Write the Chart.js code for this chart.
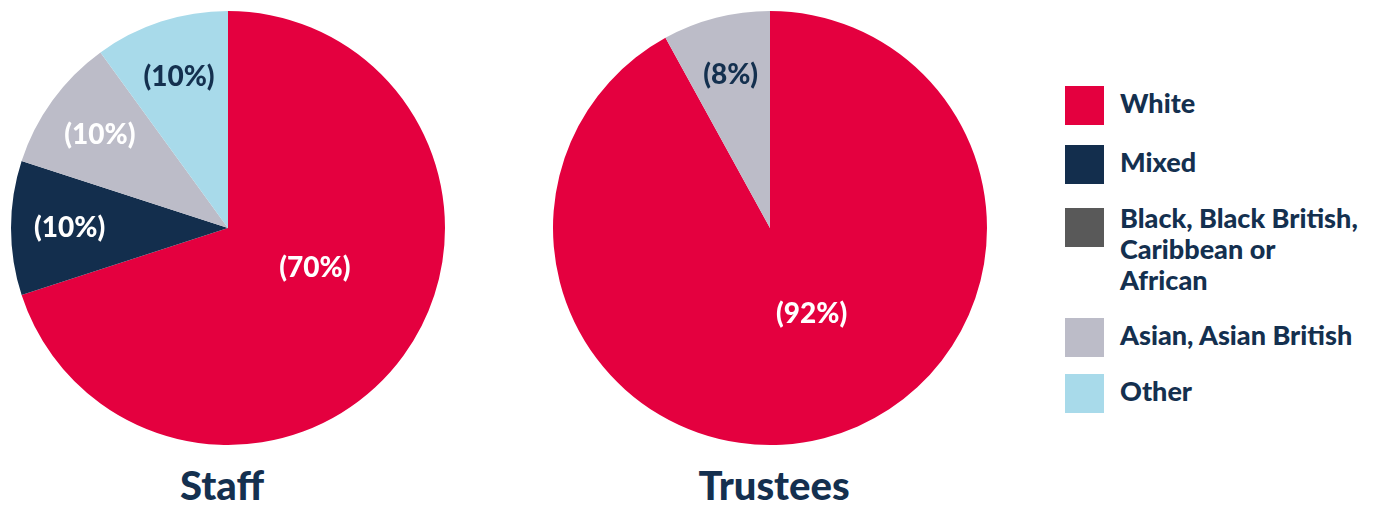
<!DOCTYPE html>
<html>
<head>
<meta charset="utf-8">
<script src="https://cdn.jsdelivr.net/npm/chart.js@4.4.1/dist/chart.umd.min.js"></script>
<style>
  body { margin: 0; background: #fff; width: 1378px; height: 506px; overflow: hidden; font-family: Lato, sans-serif; }
  .pie { position: absolute; top: 0; width: 456px; height: 456px; }
  .title { position: absolute; top: 461px; width: 456px; text-align: center; font-size: 40px; font-weight: 900; color: #14304f; }
  #legend { position: absolute; left: 1065px; top: 86px; }
  .item { position: absolute; left: 0; display: flex; }
  .swatch { width: 39px; height: 39px; flex: none; }
  .text { margin-left: 16px; font-size: 27px; font-weight: 900; color: #14304f; line-height: 31px; white-space: nowrap; }
</style>
</head>
<body>
<div class="pie" style="left:0"><canvas id="staffChart"></canvas></div>
<div class="pie" style="left:542px"><canvas id="trusteesChart"></canvas></div>
<div class="title" style="left:-6px">Staff</div>
<div class="title" style="left:546px">Trustees</div>
<div id="legend"></div>

<script>
// Categories and colours
const categories = ['White', 'Mixed', 'Black, Black British, Caribbean or African', 'Asian, Asian British', 'Other'];
const legendLines = [['White'], ['Mixed'], ['Black, Black British,', 'Caribbean or', 'African'], ['Asian, Asian British'], ['Other']];
const colours = ['#e4003f', '#132e4d', '#595959', '#bcbcc8', '#a8daea'];

// Percentages
const staffValues = [70, 10, 0, 10, 10];
const trusteeValues = [92, 0, 0, 8, 0];

// Label text colour per slice
const staffLabelColours = ['#ffffff', '#ffffff', '#ffffff', '#ffffff', '#14304f'];
const trusteeLabelColours = ['#ffffff', '#ffffff', '#ffffff', '#14304f', '#14304f'];

// Legend rows (top offsets)
const legendTops = [0, 59, 122, 232, 288];

// Draws "(nn%)" on each slice
const sliceLabels = {
    id: 'sliceLabels',
    afterDatasetsDraw(chart, args, opts) {
        const ctx = chart.ctx;
        const meta = chart.getDatasetMeta(0);
        const data = chart.data.datasets[0].data;
        ctx.save();
        ctx.font = '900 28px Lato';
        ctx.textAlign = 'center';
        ctx.textBaseline = 'middle';
        meta.data.forEach((arc, i) => {
            if (!data[i]) return;
            const big = data[i] > 50;
            const mid = (arc.startAngle + arc.endAngle) / 2 - (big ? 0.2 : 0);
            const r = arc.outerRadius * (big ? 0.44 : 0.73);
            const x = arc.x + Math.cos(mid) * r;
            const y = arc.y + Math.sin(mid) * r;
            ctx.fillStyle = opts.colours[i];
            ctx.fillText('(' + data[i] + '%)', x, y);
        });
        ctx.restore();
    }
};

function makePie (id, values, labelColours) {
    return new Chart(document.getElementById(id), {
        type: 'pie',
        data: {
            labels: categories,
            datasets: [{
                data: values,
                backgroundColor: colours,
                borderWidth: 0
            }]
        },
        options: {
            responsive: true,
            maintainAspectRatio: false,
            animation: false,
            layout: { padding: 11 },
            plugins: {
                legend: { display: false },
                tooltip: { enabled: false },
                sliceLabels: { colours: labelColours }
            }
        },
        plugins: [sliceLabels]
    });
}

makePie('staffChart', staffValues, staffLabelColours);
makePie('trusteesChart', trusteeValues, trusteeLabelColours);

// Legend
const legend = document.getElementById('legend');
categories.forEach((c, i) => {
    const item = document.createElement('div');
    item.className = 'item';
    item.style.top = legendTops[i] + 'px';
    const sw = document.createElement('div');
    sw.className = 'swatch';
    sw.style.background = colours[i];
    const tx = document.createElement('div');
    tx.className = 'text';
    tx.style.marginTop = (legendLines[i].length > 1 ? -6 : 1) + 'px';
    tx.innerHTML = legendLines[i].join('<br>');
    item.appendChild(sw);
    item.appendChild(tx);
    legend.appendChild(item);
});
</script>
</body>
</html>
